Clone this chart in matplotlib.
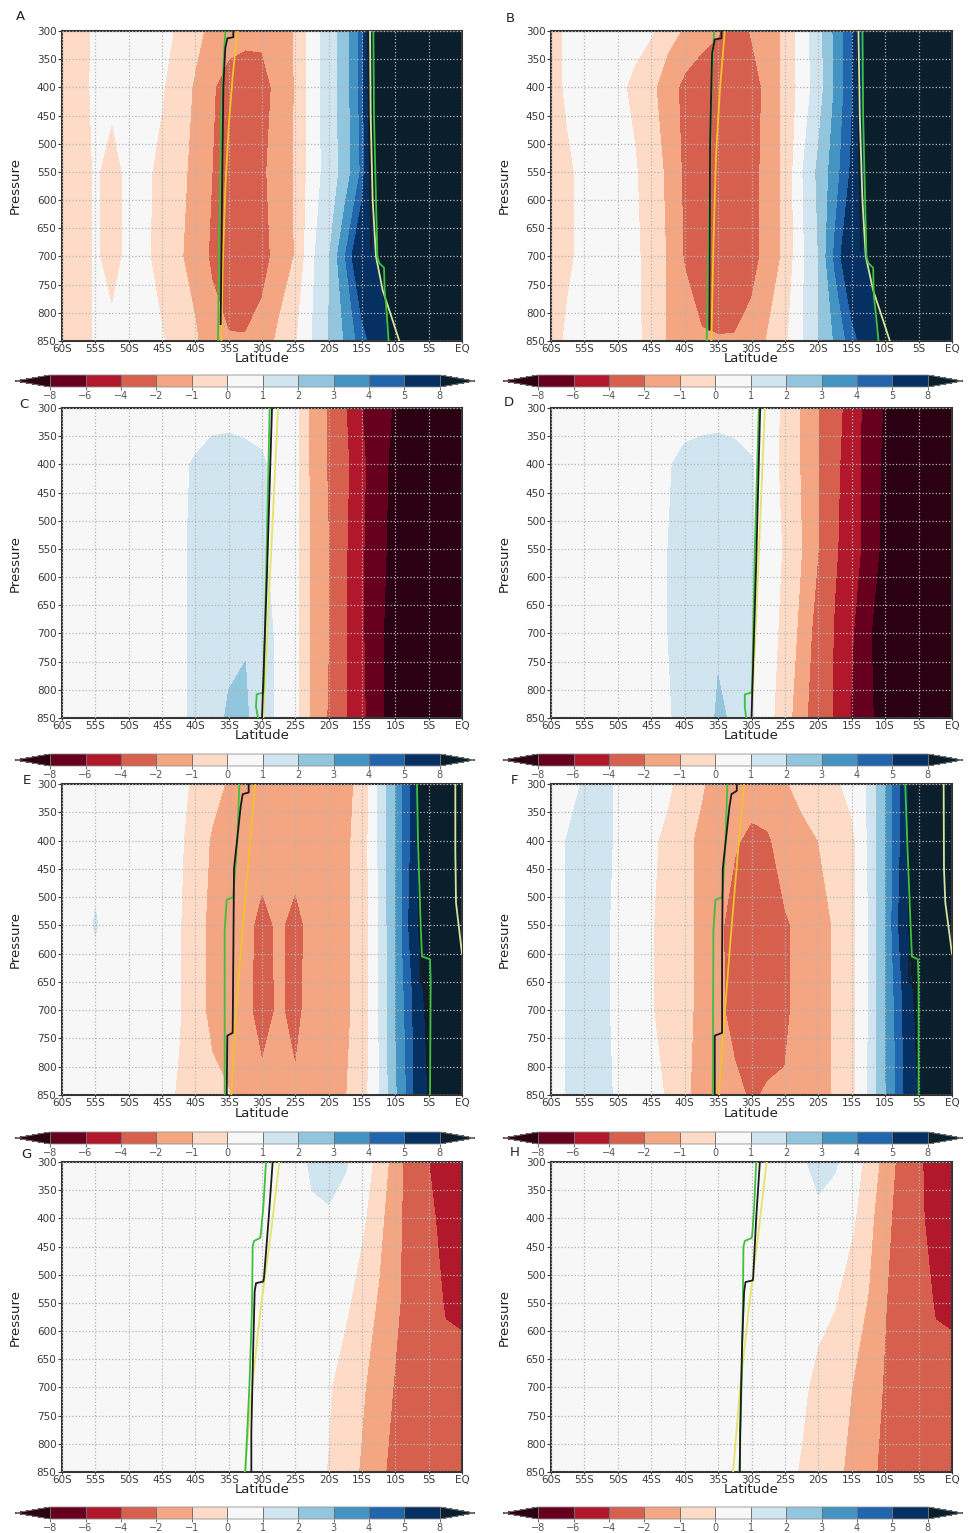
import numpy as np
import matplotlib
matplotlib.use("Agg")
import matplotlib.pyplot as plt
from matplotlib.colors import ListedColormap, BoundaryNorm

W, H = 968, 1533

# ---------------- data ----------------
LATS = [-60, -57.5, -55, -52.5, -50, -47.5, -45, -42.5, -40, -37.5, -35, -32.5, -30,
        -27.5, -25, -22.5, -20, -17.5, -15, -12.5, -10, -7.5, -5, -2.5, 0]
PRESSURES = [300, 400, 550, 700, 850]

LEVELS = [-8, -6, -4, -2, -1, 0, 1, 2, 3, 4, 5, 8]
LEVEL_COLORS = ['#67001f', '#b2182b', '#d6604d', '#f4a582', '#fddbc7', '#f7f7f7',
                '#d1e5f0', '#92c5de', '#4393c3', '#2166ac', '#053061']
UNDER_COLOR = '#2b0012'
OVER_COLOR = '#0a1f2b'

LAT_TICKS = [-60, -55, -50, -45, -40, -35, -30, -25, -20, -15, -10, -5, 0]
LAT_LABELS = ['60S', '55S', '50S', '45S', '40S', '35S', '30S', '25S', '20S', '15S', '10S', '5S', 'EQ']
P_TICKS = [300, 350, 400, 450, 500, 550, 600, 650, 700, 750, 800, 850]

# rows: 300, 400, 550, 700, 850 hPa ; columns: LATS
A_VALUES = [
    [-0.6, -0.5, 0.2, 0.3, 0.3, 0.3, 0.4, -0.2, -0.8, -1.2, -1.6, -1.7, -1.7, -1.5, -0.95, 0.5, 1.5, 2.5, 4.4, 10, 12, 12, 12, 12, 12],
    [-0.6, -0.4, 0.2, 0.2, 0.3, 0.3, 0.1, -0.6, -1.1, -1.9, -2.4, -2.6, -2.5, -1.6, -0.95, 0.5, 1.5, 2.5, 4.4, 10, 12, 12, 12, 12, 12],
    [-0.6, -0.5, 0.1, -0.3, 0.2, 0.2, -0.3, -0.8, -1.2, -2.0, -2.7, -3.0, -2.2, -1.5, -0.95, 0.5, 1.4, 2.4, 4.2, 10, 12, 12, 12, 12, 12],
    [-0.6, -0.5, 0.1, -0.3, 0.2, 0.2, -0.5, -0.9, -1.3, -2.2, -2.8, -2.9, -2.4, -1.6, -0.95, 0.8, 1.9, 4.0, 6.5, 8.2, 12, 12, 12, 12, 12],
    [-0.6, -0.5, 0.1, 0.2, 0.2, 0.2, 0.1, -0.6, -0.9, -1.5, -1.9, -1.9, -1.6, -0.8, -0.1, 1.0, 2.0, 3.1, 4.5, 5.8, 9, 12, 12, 12, 12],
]
B_VALUES = [
    [-0.5, 0.2, 0.3, 0.3, 0.3, 0.3, 0.1, -0.7, -1.1, -1.5, -1.9, -2.6, -1.9, -1.5, -0.8, 0.5, 1.6, 3.2, 4.8, 9, 12, 12, 12, 12, 12],
    [-0.5, 0.2, 0.3, 0.3, 0.2, -0.2, -0.8, -1.5, -2.3, -2.8, -3.0, -3.0, -2.6, -1.6, -0.8, 0.4, 1.5, 3.1, 4.8, 9, 12, 12, 12, 12, 12],
    [-0.5, -0.2, 0.3, 0.3, 0.2, 0.1, -0.5, -1.2, -2.2, -3.0, -3.2, -3.1, -2.4, -1.6, -0.8, 0.9, 2.2, 3.5, 5.2, 9, 12, 12, 12, 12, 12],
    [-0.5, -0.2, 0.3, 0.3, 0.2, 0.2, -0.4, -1.1, -2.1, -3.0, -3.2, -3.0, -2.4, -1.6, -0.8, 0.8, 2.0, 4.2, 6.5, 8.2, 12, 12, 12, 12, 12],
    [-0.5, 0.2, 0.3, 0.3, 0.3, 0.2, -0.3, -1.1, -1.4, -1.8, -1.9, -1.9, -1.6, -0.9, -0.2, 0.9, 2.0, 3.1, 4.5, 5.8, 9, 12, 12, 12, 12],
]
C_VALUES = [
    [0.3, 0.3, 0.3, 0.3, 0.3, 0.3, 0.3, 0.4, 0.5, 0.6, 0.6, 0.5, 0.4, 0.4, 0.3, -1.3, -2.1, -3.9, -6.0, -7.3, -8.2, -10, -10, -10, -10],
    [0.3, 0.3, 0.3, 0.3, 0.3, 0.3, 0.5, 0.8, 1.1, 1.4, 1.5, 1.4, 1.2, 0.5, 0.3, -1.3, -2.1, -3.6, -5.6, -7.5, -8.4, -10, -10, -10, -10],
    [0.3, 0.3, 0.3, 0.3, 0.3, 0.3, 0.5, 0.8, 1.2, 1.5, 1.6, 1.5, 1.2, 0.5, 0.3, -1.2, -2.0, -3.8, -5.8, -7.5, -8.6, -10, -10, -10, -10],
    [0.3, 0.3, 0.3, 0.3, 0.3, 0.3, 0.5, 0.8, 1.2, 1.6, 1.8, 1.9, 1.2, 0.9, 0.3, -1.2, -2.0, -3.8, -5.8, -7.6, -9, -10, -10, -10, -10],
    [0.3, 0.3, 0.3, 0.3, 0.3, 0.3, 0.5, 0.8, 1.2, 1.7, 2.1, 2.2, 1.2, 0.9, 0.3, -1.2, -2.1, -3.9, -5.6, -7.6, -9, -10, -10, -10, -10],
]
D_VALUES = [
    [0.3, 0.3, 0.3, 0.3, 0.3, 0.3, 0.3, 0.4, 0.5, 0.6, 0.6, 0.5, 0.4, 0.2, -0.1, -1.1, -2.0, -3.4, -4.8, -6.9, -8.2, -10, -10, -10, -10],
    [0.3, 0.3, 0.3, 0.3, 0.3, 0.3, 0.5, 0.9, 1.3, 1.4, 1.5, 1.4, 1.1, 0.3, -0.2, -1.1, -2.0, -3.6, -5.0, -7.0, -8.4, -10, -10, -10, -10],
    [0.3, 0.3, 0.3, 0.3, 0.3, 0.3, 0.6, 1.0, 1.3, 1.5, 1.6, 1.5, 1.1, 0.4, -0.1, -1.0, -2.0, -3.8, -5.0, -6.9, -8.6, -10, -10, -10, -10],
    [0.3, 0.3, 0.3, 0.3, 0.3, 0.3, 0.6, 1.0, 1.3, 1.7, 1.9, 1.8, 1.1, 0.4, -0.3, -1.3, -2.5, -4.2, -5.8, -7.8, -9, -10, -10, -10, -10],
    [0.3, 0.3, 0.3, 0.3, 0.3, 0.3, 0.5, 0.9, 1.3, 1.6, 2.1, 1.9, 1.1, 0.3, -0.6, -1.6, -2.8, -4.2, -6.2, -7.6, -9, -10, -10, -10, -10],
]
E_VALUES = [
    [0.3, 0.3, 0.3, 0.3, 0.3, 0.3, 0.3, 0.3, -0.2, -0.7, -1.1, -1.5, -1.6, -1.5, -1.6, -1.4, -1.3, -1.2, -0.8, 1.1, 3.0, 5.2, 12, 12, 12],
    [0.3, 0.3, 0.6, 0.5, 0.3, 0.3, 0.3, 0.2, -0.5, -1.1, -1.5, -1.7, -1.7, -1.6, -1.7, -1.6, -1.5, -1.2, -0.6, 1.1, 3.0, 5.2, 12, 12, 12],
    [0.3, 0.3, 1.1, 0.4, 0.3, 0.3, 0.3, 0.1, -0.7, -1.2, -1.6, -1.8, -2.2, -1.9, -2.2, -1.8, -1.6, -1.2, -0.6, 1.0, 3.0, 5.5, 12, 12, 12],
    [0.3, 0.3, 0.3, 0.3, 0.3, 0.3, 0.3, 0.1, -0.7, -1.2, -1.6, -1.8, -2.3, -1.9, -2.2, -1.7, -1.5, -1.2, -0.6, 1.0, 3.0, 4.8, 9, 12, 12],
    [0.3, 0.3, 0.3, 0.3, 0.3, 0.3, 0.3, -0.1, -0.5, -0.8, -0.95, -1.5, -1.8, -1.7, -1.9, -1.6, -1.4, -1.05, -0.5, 0.9, 2.8, 4.6, 8.2, 12, 12],
]
F_VALUES = [
    [0.3, 0.3, 1.2, 1.2, 0.9, 0.3, 0.3, 0.2, -0.5, -0.9, -1.4, -1.6, -1.6, -1.5, -1.1, -0.7, -0.5, -0.2, 0.4, 1.1, 3.0, 5.2, 12, 12, 12],
    [0.3, 1.1, 1.2, 1.2, 0.9, 0.3, 0.2, -0.3, -0.8, -1.2, -1.6, -1.9, -2.2, -2.1, -1.6, -1.3, -1.0, -0.6, -0.3, 1.1, 3.0, 5.2, 12, 12, 12],
    [0.3, 1.1, 1.3, 1.2, 0.8, 0.3, 0.1, -0.6, -0.8, -1.2, -1.8, -2.4, -2.3, -2.6, -2.1, -1.8, -1.4, -0.9, -0.3, 1.0, 3.0, 5.5, 12, 12, 12],
    [0.3, 1.1, 1.3, 1.2, 0.8, 0.3, 0.1, -0.6, -0.8, -1.2, -1.8, -2.3, -2.2, -2.5, -2.1, -1.8, -1.4, -0.9, -0.3, 1.0, 3.0, 4.8, 9, 12, 12],
    [0.3, 1.1, 1.2, 1.2, 0.9, 0.3, 0.3, -0.1, -0.9, -1.2, -1.5, -1.8, -2.1, -1.9, -1.95, -1.7, -1.4, -0.9, -0.3, 1.1, 2.9, 4.6, 8.2, 12, 12],
]
G_VALUES = [
    [0.3, 0.3, 0.3, 0.3, 0.3, 0.3, 0.3, 0.3, 0.3, 0.3, 0.3, 0.3, 0.3, 0.3, 0.5, 1.2, 1.3, 1.1, 0.5, -0.3, -1.5, -2.6, -4.0, -4.8, -5.2],
    [0.3, 0.3, 0.3, 0.3, 0.3, 0.3, 0.3, 0.3, 0.3, 0.3, 0.3, 0.3, 0.3, 0.3, 0.3, 0.8, 0.9, 0.6, 0.2, -0.7, -1.7, -2.5, -3.6, -4.6, -5.0],
    [0.3, 0.3, 0.3, 0.3, 0.3, 0.3, 0.3, 0.3, 0.3, 0.3, 0.3, 0.3, 0.3, 0.3, 0.3, 0.3, 0.3, 0.2, -0.5, -1.1, -1.8, -2.5, -3.4, -4.1, -4.15],
    [0.3, 0.3, 0.3, 0.3, 0.3, 0.3, 0.3, 0.3, 0.3, 0.3, 0.3, 0.3, 0.3, 0.3, 0.3, 0.3, 0.1, -0.5, -0.9, -1.4, -2.1, -3.0, -3.5, -3.6, -3.7],
    [0.3, 0.3, 0.3, 0.3, 0.3, 0.3, 0.3, 0.3, 0.3, 0.3, 0.3, 0.3, 0.3, 0.3, 0.3, 0.3, -0.05, -0.6, -1.1, -1.7, -2.4, -3.0, -3.4, -3.4, -3.4],
]
H_VALUES = [
    [0.3, 0.3, 0.3, 0.3, 0.3, 0.3, 0.3, 0.3, 0.3, 0.3, 0.3, 0.3, 0.3, 0.3, 0.4, 0.9, 1.2, 1.1, 0.5, -0.3, -1.4, -2.4, -3.8, -4.6, -5.2],
    [0.3, 0.3, 0.3, 0.3, 0.3, 0.3, 0.3, 0.3, 0.3, 0.3, 0.3, 0.3, 0.3, 0.3, 0.3, 0.6, 0.85, 0.6, 0.2, -0.7, -1.7, -2.5, -3.7, -4.6, -5.0],
    [0.3, 0.3, 0.3, 0.3, 0.3, 0.3, 0.3, 0.3, 0.3, 0.3, 0.3, 0.3, 0.3, 0.3, 0.3, 0.3, 0.3, 0.05, -0.6, -1.05, -1.95, -2.6, -3.4, -4.1, -4.15],
    [0.3, 0.3, 0.3, 0.3, 0.3, 0.3, 0.3, 0.3, 0.3, 0.3, 0.3, 0.3, 0.3, 0.3, 0.3, 0.2, -0.3, -0.6, -1.0, -1.5, -2.1, -2.8, -3.3, -3.6, -3.7],
    [0.3, 0.3, 0.3, 0.3, 0.3, 0.3, 0.3, 0.3, 0.3, 0.3, 0.3, 0.3, 0.3, 0.3, 0.3, -0.1, -0.5, -0.8, -1.2, -1.7, -2.3, -2.9, -3.2, -3.4, -3.4],
]

BLACK = '#1c1c1c'
GREEN = '#3fbf3f'
GOLD = '#f2c12e'
YELLOW = '#e3e46a'
PALE = '#d3e49a'

# line overlays: (colour, latitudes, pressures)
A_LINES = [
    (GOLD, [-33.7, -34.4, -35.0, -35.5, -35.9, -36.1], [300, 380, 470, 580, 720, 850]),
    (GREEN, [-35.5, -35.7, -36.1, -36.4, -36.6], [300, 340, 450, 650, 850]),
    (BLACK, [-34.3, -34.3, -35.2, -35.5, -35.8, -36.0, -36.2], [300, 311, 313, 330, 400, 600, 820]),
    (BLACK, [-14.1, -13.9, -13.6], [300, 500, 690]),
    (PALE, [-13.8, -13.7, -13.4, -12.9, -11.9, -10.5, -9.4], [300, 450, 600, 700, 760, 810, 850]),
    (GREEN, [-13.3, -13.2, -12.9, -12.7, -12.4, -11.7, -11.6, -11.3, -11.0], [300, 450, 600, 700, 712, 720, 760, 800, 850]),
]
B_LINES = [
    (GOLD, [-34.0, -34.7, -35.3, -35.7, -36.0], [300, 400, 520, 680, 850]),
    (GREEN, [-35.6, -35.9, -36.3, -36.7], [300, 380, 600, 850]),
    (BLACK, [-34.5, -34.5, -35.5, -35.9, -36.2, -36.3], [300, 313, 315, 340, 500, 830]),
    (BLACK, [-14.1, -13.9, -13.6], [300, 500, 690]),
    (PALE, [-14.0, -13.8, -13.4, -12.9, -11.8, -10.4, -9.3], [300, 450, 600, 700, 760, 810, 850]),
    (GREEN, [-13.4, -13.3, -13.0, -12.8, -12.5, -11.8, -11.7, -11.4, -11.0], [300, 450, 600, 700, 712, 720, 770, 800, 850]),
]
C_LINES = [
    (YELLOW, [-27.6, -28.4, -29.2, -29.8], [300, 500, 700, 850]),
    (GREEN, [-28.85, -29.3, -29.75, -29.8, -30.8, -30.9, -30.6], [300, 550, 795, 805, 808, 830, 850]),
    (BLACK, [-28.5, -29.2, -30.0], [300, 575, 850]),
]
D_LINES = [
    (YELLOW, [-28.0, -28.7, -29.4, -30.0], [300, 500, 700, 850]),
    (GREEN, [-28.9, -29.5, -29.9, -30.0, -31.0, -31.0, -30.8], [300, 550, 795, 805, 808, 830, 850]),
    (BLACK, [-28.7, -29.3, -30.0], [300, 575, 850]),
]
E_LINES = [
    (GOLD, [-31.0, -32.0, -33.0, -34.0, -34.6], [300, 430, 570, 720, 850]),
    (GREEN, [-33.4, -33.7, -34.2, -34.3, -35.3, -35.6, -35.6], [300, 400, 480, 500, 505, 560, 850]),
    (BLACK, [-32.0, -32.0, -32.9, -33.2, -34.2, -34.3, -34.4, -35.2, -35.3], [300, 315, 318, 340, 450, 600, 740, 745, 850]),
    (BLACK, [-6.2, -6.2, -5.8, -5.0, -4.9], [600, 650, 658, 660, 850]),
    (GREEN, [-6.75, -6.6, -6.2, -6.0, -4.8, -4.7, -4.8], [300, 400, 550, 605, 610, 650, 850]),
    (PALE, [-1.0, -1.0, -0.9, 0.0], [300, 420, 510, 600]),
]
F_LINES = [
    (GOLD, [-31.1, -32.1, -33.1, -34.1, -34.85], [300, 430, 570, 720, 850]),
    (GREEN, [-33.6, -33.9, -34.3, -34.4, -35.4, -35.7, -35.8], [300, 400, 490, 500, 505, 560, 850]),
    (BLACK, [-32.2, -32.2, -33.0, -33.3, -34.3, -34.4, -34.4, -35.5, -35.5], [300, 312, 318, 340, 450, 600, 740, 745, 850]),
    (BLACK, [-6.4, -6.4, -5.6, -5.1], [605, 650, 655, 660]),
    (GREEN, [-7.0, -6.7, -6.2, -6.0, -5.1, -5.0, -5.0], [300, 400, 550, 605, 610, 650, 850]),
    (PALE, [-1.25, -1.2, -1.0, 0.0], [300, 450, 510, 600]),
]
G_LINES = [
    (YELLOW, [-27.4, -28.6, -30.2, -31.5, -32.6], [300, 420, 560, 700, 850]),
    (GREEN, [-29.4, -29.8, -30.2, -30.3, -31.2, -31.4, -31.5, -31.9, -32.5], [300, 380, 430, 435, 440, 450, 560, 700, 850]),
    (BLACK, [-28.4, -29.0, -29.7, -29.8, -30.9, -31.1, -31.3, -31.6, -31.6], [300, 400, 505, 512, 515, 530, 620, 780, 850]),
]
H_LINES = [
    (YELLOW, [-27.75, -28.9, -30.4, -31.7, -32.75], [300, 420, 560, 700, 850]),
    (GREEN, [-29.3, -29.6, -29.9, -30.0, -31.0, -31.2, -31.3, -31.5, -31.8], [300, 380, 430, 435, 440, 450, 560, 700, 850]),
    (BLACK, [-28.75, -29.3, -29.75, -29.8, -30.9, -31.1, -31.4, -31.7, -31.75], [300, 400, 505, 510, 513, 530, 620, 780, 850]),
]

PANEL_NAMES = ['A', 'B', 'C', 'D', 'E', 'F', 'G', 'H']
PANEL_VALUES = [A_VALUES, B_VALUES, C_VALUES, D_VALUES, E_VALUES, F_VALUES, G_VALUES, H_VALUES]
PANEL_LINES = [A_LINES, B_LINES, C_LINES, D_LINES, E_LINES, F_LINES, G_LINES, H_LINES]

# ---------------- layout (pixels) ----------------
COL_X = [(62, 462), (551, 952)]
ROW_Y = [(31, 341), (408, 718), (784, 1095), (1162, 1472)]
CB_X = [(15, 475), (503, 963)]
CB_Y = [(375, 387), (754, 766), (1132, 1144), (1507, 1519)]
LETTER_POS = {'A': (20, 17), 'B': (510, 19), 'C': (24, 404), 'D': (509, 403),
              'E': (27, 780), 'F': (514, 780), 'G': (26, 1155), 'H': (515, 1153)}


def rect(l, t, r, b):
    return [l / W, 1 - b / H, (r - l) / W, (b - t) / H]


cmap = ListedColormap(LEVEL_COLORS)
cmap.set_under(UNDER_COLOR)
cmap.set_over(OVER_COLOR)
norm = BoundaryNorm(LEVELS, cmap.N)

fig = plt.figure(figsize=(W / 100, H / 100), dpi=100)
TXT = '#3a3a3a'

for i, name in enumerate(PANEL_NAMES):
    row, col = divmod(i, 2)
    l, r = COL_X[col]
    t, b = ROW_Y[row]
    ax = fig.add_axes(rect(l, t, r, b))
    Z = np.array(PANEL_VALUES[i])
    cs = ax.contourf(LATS, PRESSURES, Z, levels=LEVELS, cmap=cmap, norm=norm, extend='both')
    for color, la, pp in PANEL_LINES[i]:
        ax.plot(la, pp, color=color, lw=1.3, zorder=3, solid_joinstyle='round')
    ax.set_xlim(-60, 0)
    ax.set_ylim(850, 300)
    ax.set_xticks(LAT_TICKS)
    ax.set_xticklabels(LAT_LABELS)
    ax.set_yticks(P_TICKS)
    ax.tick_params(axis='y', labelsize=7.5, colors=TXT, length=3, width=0.8, pad=1)
    ax.tick_params(axis='x', labelsize=7.5, colors=TXT, length=1.5, width=0.8, pad=0.5)
    ax.grid(True, color='#b5b5b5', linestyle=':', linewidth=0.9)
    ax.set_axisbelow(False)
    for sp in ax.spines.values():
        sp.set_color('#333333')
        sp.set_linewidth(1.5)
    ax.set_xlabel('Latitude', fontsize=9.5, color='#222222', va='top')
    ax.xaxis.set_label_coords(0.5, -0.037)
    ax.set_ylabel('Pressure', fontsize=9.5, color='#222222')
    ax.yaxis.set_label_coords(-0.1, 0.5)

    cl, cr = CB_X[col]
    ct, cb_ = CB_Y[row]
    cax = fig.add_axes(rect(cl, ct, cr, cb_))
    cb = fig.colorbar(cs, cax=cax, orientation='horizontal', ticks=LEVELS,
                      spacing='uniform', extendfrac=0.09, drawedges=True)
    cb.dividers.set_color('#707070')
    cb.dividers.set_linewidth(0.7)
    cb.outline.set_edgecolor('#909090')
    cb.outline.set_linewidth(0.6)
    cax.tick_params(labelsize=7, colors='#555555', length=2, width=0.6, pad=1)

    lx, ly = LETTER_POS[name]
    fig.text(lx / W, 1 - ly / H, name, fontsize=9.5, color='#222222', ha='center', va='center')

fig.savefig('out.png', dpi=100, facecolor='white')
